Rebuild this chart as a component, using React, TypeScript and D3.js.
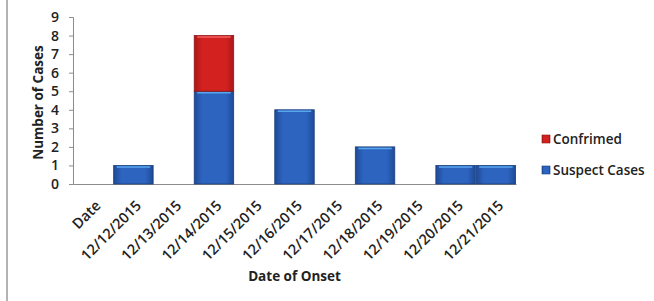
import * as d3 from 'd3';
import { useEffect, useRef } from 'react';

const categories = ['Date', '12/12/2015', '12/13/2015', '12/14/2015', '12/15/2015', '12/16/2015', '12/17/2015', '12/18/2015', '12/19/2015', '12/20/2015', '12/21/2015'];
const suspectCases = [0, 1, 0, 5, 0, 4, 0, 2, 0, 1, 1];
const confirmed = [0, 0, 0, 3, 0, 0, 0, 0, 0, 0, 0];
const yTicks = [0, 1, 2, 3, 4, 5, 6, 7, 8, 9];
const seriesNames = ['Suspect Cases', 'Confrimed'];

const FONT = '"Open Sans", "Noto Sans", sans-serif';

const App = () => {
  const svgRef = useRef<SVGSVGElement | null>(null);

  useEffect(() => {
    if (!svgRef.current) return;
    const width = 654;
    const height = 301;
    const left = 73;
    const right = 516;
    const top = 17;
    const bottom = 184;

    const svg = d3.select(svgRef.current)
      .html('')
      .attr('width', width)
      .attr('height', height);

    svg.append('rect').attr('width', width).attr('height', height).attr('fill', '#fff');

    // left page edge
    svg.append('line')
      .attr('x1', 7).attr('x2', 7).attr('y1', 0).attr('y2', height)
      .attr('stroke', '#9a9a9a').attr('stroke-width', 1.5);

    const defs = svg.append('defs');
    const grad = (id: string, edge: string, mid: string) => {
      const g = defs.append('linearGradient').attr('id', id).attr('x1', 0).attr('x2', 1).attr('y1', 0).attr('y2', 0);
      g.append('stop').attr('offset', '0%').attr('stop-color', edge);
      g.append('stop').attr('offset', '20%').attr('stop-color', mid);
      g.append('stop').attr('offset', '80%').attr('stop-color', mid);
      g.append('stop').attr('offset', '100%').attr('stop-color', edge);
    };
    grad('gBlue', '#1f4a96', '#2c64bf');
    grad('gRed', '#a81818', '#d3211f');

    const x = d3.scaleBand<string>().domain(categories).range([left, right]).paddingInner(0.02).paddingOuter(0.01);
    const y = d3.scaleLinear().domain([0, 9]).range([bottom, top]);

    const rows = categories.map((c, i) => ({ cat: c, suspect: suspectCases[i], confirmed: confirmed[i] }));
    const stack = d3.stack<any>().keys(['suspect', 'confirmed'])(rows);
    const fills = ['url(#gBlue)', 'url(#gRed)'];
    const highlights = ['#5aa6ec', '#f06060'];

    // Y axis
    const yAxis = svg.append('g')
      .attr('transform', `translate(${left},0)`)
      .call(d3.axisLeft(y).tickValues(yTicks).tickSize(4).tickPadding(10).tickFormat(d3.format('d')));
    yAxis.select('.domain').attr('stroke', '#8c8c8c');
    yAxis.selectAll('.tick line').attr('stroke', '#8c8c8c');
    yAxis.selectAll('.tick text')
      .attr('fill', '#222').style('font-family', FONT).style('font-size', '14px').style('font-weight', 600);

    // X axis
    const xAxis = svg.append('g')
      .attr('transform', `translate(0,${bottom})`)
      .call(d3.axisBottom(x).tickSize(0).tickSizeOuter(0).tickFormat(() => ''));
    xAxis.select('.domain').attr('stroke', '#8c8c8c');

    svg.append('g').selectAll('text')
      .data(categories)
      .enter().append('text')
      .attr('transform', d => `translate(${(x(d) as number) + x.bandwidth() / 2 + 5},${bottom + 19}) rotate(-45)`)
      .attr('text-anchor', 'end')
      .attr('dy', '0.35em')
      .attr('fill', '#222')
      .style('font-family', FONT).style('font-size', '14.5px').style('font-weight', 600)
      .text(d => d);

    // bars
    stack.forEach((layer, li) => {
      const g = svg.append('g');
      layer.forEach((seg, i) => {
        if (seg[1] - seg[0] <= 0) return;
        const x0 = x(categories[i]) as number;
        const yTop = y(seg[1]);
        const h = y(seg[0]) - y(seg[1]);
        g.append('rect')
          .attr('x', x0).attr('y', yTop).attr('width', x.bandwidth()).attr('height', h)
          .attr('fill', fills[li])
          .attr('stroke', li === 0 ? '#1a3c7c' : '#8e1414').attr('stroke-width', 0.8);
        g.append('line')
          .attr('x1', x0 + 3).attr('x2', x0 + x.bandwidth() - 3)
          .attr('y1', yTop + 1.5).attr('y2', yTop + 1.5)
          .attr('stroke', highlights[li]).attr('stroke-width', 1.5);
      });
    });

    // axis titles
    svg.append('text')
      .attr('transform', `translate(43,${(top + bottom) / 2 + 2}) rotate(-90)`)
      .attr('text-anchor', 'middle')
      .attr('fill', '#222')
      .style('font-family', FONT).style('font-size', '13.5px').style('font-weight', 700)
      .text('Number of Cases');

    svg.append('text')
      .attr('x', (left + right) / 2)
      .attr('y', 281)
      .attr('text-anchor', 'middle')
      .attr('fill', '#222')
      .style('font-family', FONT).style('font-size', '13.5px').style('font-weight', 700)
      .text('Date of Onset');

    // legend (Confrimed on top)
    const legend = svg.append('g').attr('transform', 'translate(542,135)');
    [1, 0].forEach((si, j) => {
      const item = legend.append('g').attr('transform', `translate(0,${j * 31})`);
      item.append('rect')
        .attr('width', 8).attr('height', 8)
        .attr('fill', fills[si])
        .attr('stroke', si === 0 ? '#1a3c7c' : '#8e1414').attr('stroke-width', 0.6);
      item.append('text')
        .attr('x', 11).attr('y', 8.5)
        .attr('fill', '#222')
        .style('font-family', FONT).style('font-size', '13.5px').style('font-weight', 600)
        .text(seriesNames[si]);
    });
  }, []);

  return <svg ref={svgRef} style={{ position: 'absolute', left: 0, top: 0 }} />;
};

export default App;
